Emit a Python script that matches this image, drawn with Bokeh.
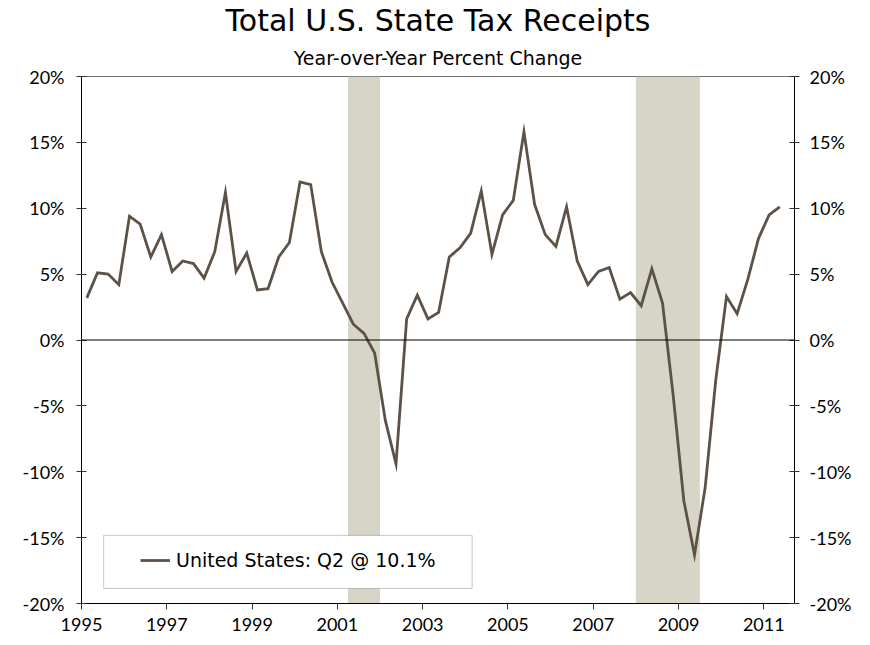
from bokeh.plotting import figure
from bokeh.models import (Range1d, LinearAxis, FixedTicker, PrintfTickFormatter, Span,
                          Legend, LegendItem, Title, BoxAnnotation, ColumnDataSource)
from bokeh.embed import file_html
from bokeh.resources import INLINE

# ---- data ----
start_year = 1995
yoy_pct = [3.2, 5.1, 5.0, 4.2, 9.4, 8.8, 6.3, 8.0,
           5.2, 6.0, 5.8, 4.7, 6.7, 11.2, 5.2, 6.6,
           3.8, 3.9, 6.3, 7.4, 12.0, 11.8, 6.7, 4.4,
           2.8, 1.2, 0.5, -1.0, -6.1, -9.4, 1.6, 3.4,
           1.6, 2.1, 6.3, 7.0, 8.1, 11.3, 6.5, 9.5,
           10.6, 15.8, 10.3, 8.0, 7.1, 10.1, 6.0, 4.2,
           5.2, 5.5, 3.1, 3.6, 2.6, 5.4, 2.8, -4.2,
           -12.2, -16.3, -11.2, -3.0, 3.3, 2.0, 4.6, 7.7,
           9.5, 10.1]
recession_start = [2001.25, 2008.0]
recession_end = [2002.0, 2009.5]
x_tick_years = [1995, 1997, 1999, 2001, 2003, 2005, 2007, 2009, 2011]
y_ticks = [-20, -15, -10, -5, 0, 5, 10, 15, 20]
title_text = "Total U.S. State Tax Receipts"
subtitle_text = "Year-over-Year Percent Change"
legend_text = "United States: Q2 @ 10.1%"

# quarterly positions (mid-quarter)
xq = [start_year + i / 4 + 0.125 for i in range(len(yoy_pct))]

LINE = "#5c5247"
BAND = "#d7d4c8"
TICK_FONT = "Lato"

p = figure(width=854, height=642, output_backend="svg", toolbar_location=None,
           x_range=Range1d(1995, 2011.72), y_range=Range1d(-20, 20),
           min_border_left=81, min_border_right=57, min_border_top=10,
           min_border_bottom=39, title=None)
p.background_fill_color = "white"
p.border_fill_color = "white"
p.outline_line_color = "#707070"
p.outline_line_width = 1
p.xgrid.visible = False
p.ygrid.visible = False

# titles
sub = Title(text=subtitle_text, align="center", text_font="DejaVu Sans",
            text_font_size="19px", text_font_style="normal", text_color="black",
            standoff=15)
p.add_layout(sub, "above")
main = Title(text=title_text, align="center", text_font="DejaVu Sans",
             text_font_size="30px", text_font_style="normal", text_color="black",
             standoff=0)
p.add_layout(main, "above")

# recession bands
p.quad(left=recession_start, right=recession_end, bottom=-20, top=20,
       fill_color=BAND, line_color=None, level="underlay")

# zero line
p.add_layout(Span(location=0, dimension="width", line_color="black", line_width=1))

src = ColumnDataSource(dict(x=xq, y=yoy_pct))
r = p.line("x", "y", source=src, line_color=LINE, line_width=2.8, line_join="miter")

# axes
def style_y(ax, standoff):
    ax.ticker = FixedTicker(ticks=y_ticks)
    ax.formatter = PrintfTickFormatter(format="%d%%")
    ax.axis_line_color = "black"
    ax.axis_line_width = 1
    ax.major_tick_line_color = "#333333"
    ax.major_tick_in = 5
    ax.major_tick_out = 5
    ax.minor_tick_line_color = None
    ax.major_label_text_font = TICK_FONT
    ax.major_label_text_font_size = "18px"
    ax.major_label_text_color = "black"
    ax.major_label_standoff = standoff

style_y(p.yaxis[0], 12)
ry = LinearAxis()
style_y(ry, 10)
p.add_layout(ry, "right")

xa = p.xaxis[0]
xa.ticker = FixedTicker(ticks=x_tick_years)
xa.major_label_overrides = {y: str(y) for y in x_tick_years}
xa.axis_line_color = "black"
xa.major_tick_line_color = "#333333"
xa.major_tick_in = 0
xa.major_tick_out = 6
xa.minor_tick_line_color = None
xa.major_label_text_font = TICK_FONT
xa.major_label_text_font_size = "18px"
xa.major_label_text_color = "black"
xa.major_label_standoff = 8

# legend box and legend
p.add_layout(BoxAnnotation(left=1995.52, right=2004.16, bottom=-18.86, top=-14.83,
                           fill_color="white", fill_alpha=1, line_color="#444444",
                           line_width=1, level="overlay"))
leg = Legend(items=[LegendItem(label=legend_text, renderers=[r])],
             location=(59, 32), padding=0, margin=0, glyph_width=30, glyph_height=20,
             label_height=20, label_standoff=6, border_line_alpha=0,
             background_fill_alpha=0, label_text_font="DejaVu Sans",
             label_text_font_size="19px", label_text_color="black")
p.add_layout(leg, "center")

open("out.html", "w").write(file_html(p, INLINE))
